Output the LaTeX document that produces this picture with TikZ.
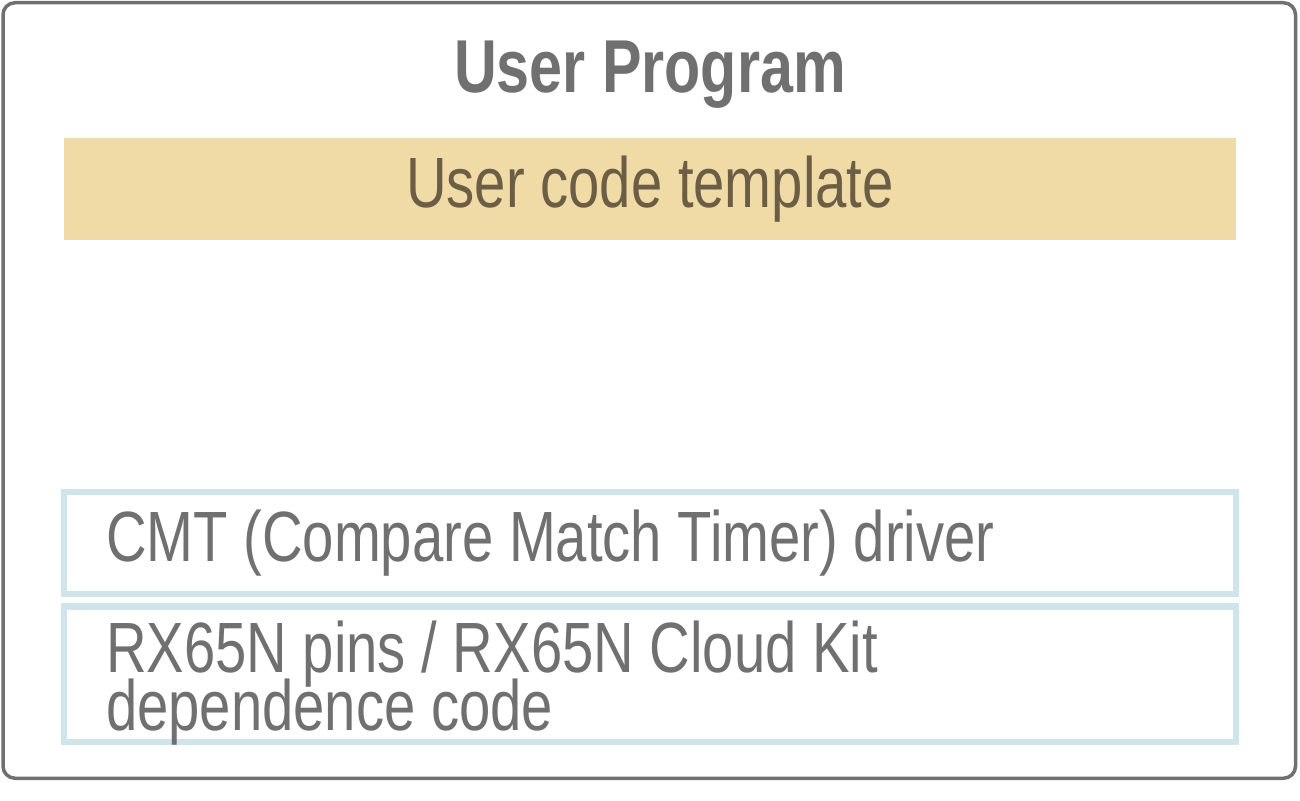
\documentclass[tikz,border=0pt]{standalone}
\usepackage{fontspec}
\setmainfont[FakeStretch=0.79]{Liberation Sans}
\usepackage{tikz}
\usetikzlibrary{positioning}
\definecolor{framegray}{HTML}{707070}
\definecolor{templatetan}{HTML}{F0DAA5}
\definecolor{templatetext}{HTML}{6B5E45}
\definecolor{driverblue}{HTML}{D0E5EB}
\tikzset{
    programbox/.style={draw=framegray, line width=1.75pt, rounded corners=6pt,
        minimum width=646.25pt, minimum height=387.75pt, inner sep=0pt},
    titletext/.style={text=framegray, font=\fontsize{37.5}{40}\selectfont\bfseries,
        inner sep=0pt, anchor=base},
    templatebox/.style={fill=templatetan, text=templatetext, inner sep=0pt,
        minimum width=586pt, minimum height=51pt,
        font=\fontsize{35.6}{28}\selectfont},
    driverbox/.style={draw=driverblue, line width=3.25pt, text=framegray,
        inner xsep=20.9pt, inner ysep=0pt, text width=544pt, align=flush left,
        font=\fontsize{35.6}{28}\selectfont},
}

\begin{document}
\begin{tikzpicture}[x=0.5pt, y=-0.5pt]
\useasboundingbox (0,0) rectangle (1300,801);
% frame and heading
\node[programbox] (program) at (649.25,390.5) {};
\node[titletext] (title) at (650,93) {User Program};
% layers
\node[templatebox] (template) at (650,189) {User code template};
\node[driverbox, minimum height=50.75pt] (cmt) at (650,543)
    {CMT (Compare Match Timer) driver};
\node[driverbox, minimum height=67.75pt, text height=26pt, text depth=28pt]
    (board) at (650,674) {RX65N pins / RX65N Cloud Kit\\[-5pt]dependence code};
\end{tikzpicture}
\end{document}
